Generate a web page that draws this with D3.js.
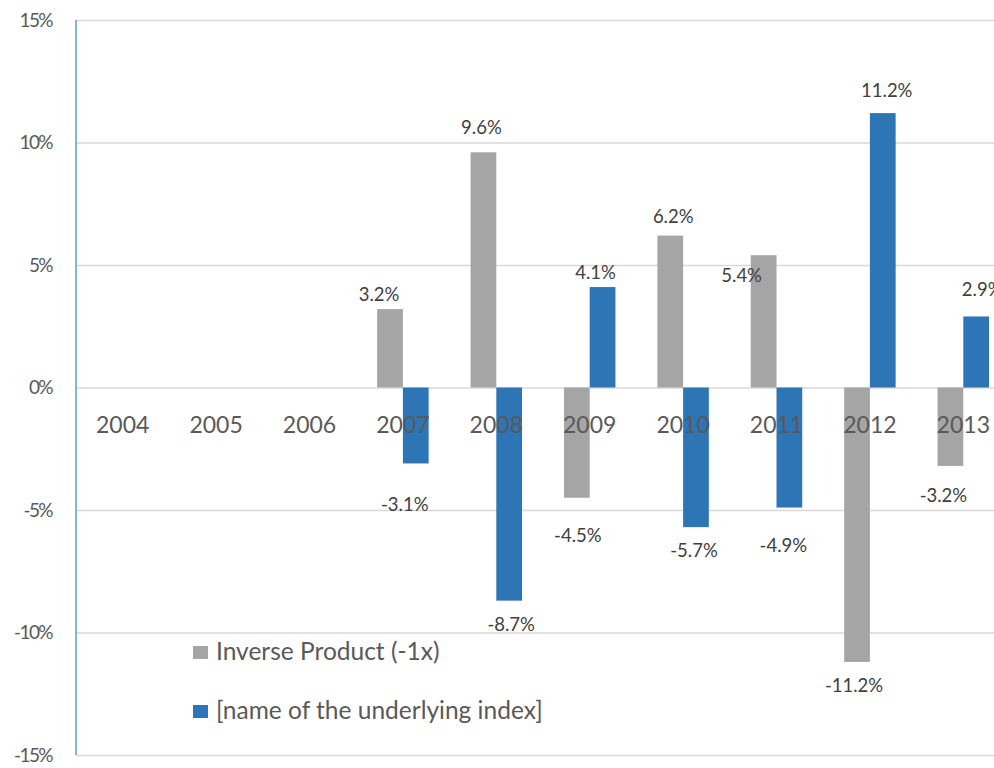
<!DOCTYPE html>
<html><head><meta charset="utf-8">
<script src="https://cdn.jsdelivr.net/npm/d3@7"></script>
<style>body{margin:0;background:#fff}svg{display:block}</style>
</head><body><svg id="c" width="994" height="768"></svg>
<script>
// ---- data ----
const years = ["2004","2005","2006","2007","2008","2009","2010","2011","2012","2013"];
const inverseValues = [null,null,null,3.2,9.6,-4.5,6.2,5.4,-11.2,-3.2];
const indexValues   = [null,null,null,-3.1,-8.7,4.1,-5.7,-4.9,11.2,2.9];
const seriesNames = ["Inverse Product (-1x)","[name of the underlying index]"];
const yTicks = [-15,-10,-5,0,5,10,15];

// ---- layout / style (label nudges from the reference's hand-placed labels) ----
const inverseNudge = [null,null,null,[-11,-8],[-2,-18],[1,44],[3,-13],[-22,27],[-3,30],[-7,36]];
const indexNudge   = [null,null,null,[-11,48],[2,30],[-7,-8],[-2,30],[-6,44],[4,-16],[6,-20]];
const colors = ["#a5a5a5","#2e75b6"];
const textColor = "#595959";
const font = "Lato, 'Open Sans', sans-serif";

const svg = d3.select("#c");
const plotLeft = 76, plotTop = 20, plotBottom = 755, step = 93.4;
const plotRight = plotLeft + step*years.length;

const y = d3.scaleLinear().domain([-15,15]).range([plotBottom, plotTop]);
const x0 = d3.scaleBand().domain(years).range([plotLeft, plotRight]).paddingInner(0.449).paddingOuter(0.2245);
const x1 = d3.scaleBand().domain([0,1]).range([0, x0.bandwidth()]);

// gridlines
const grid = svg.append("g").attr("transform",`translate(${plotLeft},0)`)
  .call(d3.axisLeft(y).tickValues(yTicks).tickSize(-(plotRight-plotLeft)).tickFormat(""));
grid.select(".domain").remove();
grid.selectAll("line").attr("stroke","#d9d9d9").attr("stroke-width",1.5);

// y labels
const ya = svg.append("g").attr("transform",`translate(${plotLeft},0)`)
  .call(d3.axisLeft(y).tickValues(yTicks).tickSize(0).tickPadding(24).tickFormat(d => d + "%"));
ya.select(".domain").remove();
ya.selectAll("text").attr("font-family",font).attr("font-size",19).attr("letter-spacing",-1.6)
  .attr("fill",textColor);

// bars
const series = [inverseValues, indexValues];
const nudges = [inverseNudge, indexNudge];
series.forEach((vals, s) => {
  svg.append("g").selectAll("rect").data(years.map((yr,i)=>({yr, v: vals[i]})).filter(d=>d.v!==null))
    .join("rect")
    .attr("x", d => x0(d.yr) + x1(s))
    .attr("width", x1.bandwidth())
    .attr("y", d => y(Math.max(0,d.v)))
    .attr("height", d => Math.abs(y(d.v)-y(0)))
    .attr("fill", colors[s]);
});

// y axis line
svg.append("line").attr("x1",plotLeft).attr("x2",plotLeft).attr("y1",plotTop).attr("y2",plotBottom)
  .attr("stroke","#5b9bd5").attr("stroke-width",1.5);

// category labels (drawn over bars)
const xa = svg.append("g").attr("transform",`translate(0,${y(0)})`)
  .call(d3.axisBottom(x0).tickSize(0).tickPadding(0));
xa.select(".domain").remove();
xa.selectAll("text").attr("dy",null).attr("y",45).attr("font-family",font).attr("font-size",23)
  .attr("fill",textColor);

// data labels
series.forEach((vals, s) => {
  svg.append("g").selectAll("text").data(years.map((yr,i)=>({yr, v: vals[i], n: nudges[s][i]})).filter(d=>d.v!==null))
    .join("text")
    .attr("x", d => x0(d.yr) + x1(s) + x1.bandwidth()/2 + d.n[0])
    .attr("y", d => y(d.v) + d.n[1])
    .attr("text-anchor","middle")
    .attr("font-family",font).attr("font-size",18.5).attr("fill","#404040")
    .text(d => d.v.toFixed(1) + "%");
});

// legend
const lg = svg.append("g");
seriesNames.forEach((name, s) => {
  const cy = 652 + s*59;
  lg.append("rect").attr("x",193).attr("y",cy-6).attr("width",15).attr("height",13).attr("fill",colors[s]);
  lg.append("text").attr("x",216).attr("y",cy+8).attr("font-family",font).attr("font-size",24.5)
    .attr("fill",textColor).text(name);
});
</script></body></html>
